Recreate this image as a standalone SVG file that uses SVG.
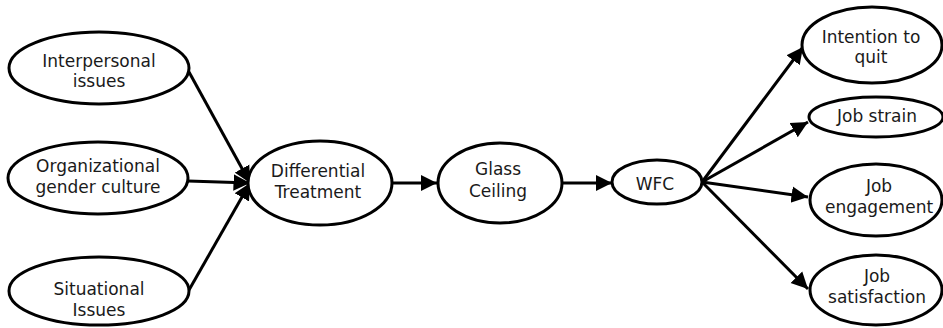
<svg xmlns="http://www.w3.org/2000/svg" width="943" height="328" viewBox="0 0 943 328">
  <style>
    .node ellipse { fill: #ffffff; stroke: #000000; stroke-width: 3; }
    .node text { font-family: "DejaVu Sans", Verdana, sans-serif; font-size: 17px; fill: #1a1a1a; text-anchor: middle; }
    .edge { stroke: #000000; stroke-width: 3; fill: none; }
    .arrow { marker-end: url(#head); }
  </style>
  <defs>
    <marker id="head" viewBox="0 0 10 10" refX="10" refY="5" markerWidth="5.5" markerHeight="6" markerUnits="strokeWidth" orient="auto">
      <path d="M0,0 L10,5 L0,10 z" fill="#000000"/>
    </marker>
  </defs>

  <rect width="943" height="328" fill="#ffffff"/>

  <!-- connectors -->
  <g id="connectors">
    <line class="edge arrow" x1="189" y1="72" x2="250" y2="183"/>
    <line class="edge arrow" x1="188" y1="181" x2="250" y2="183"/>
    <line class="edge arrow" x1="189" y1="290" x2="250" y2="183"/>
    <line class="edge arrow" x1="392" y1="183" x2="437" y2="183"/>
    <line class="edge arrow" x1="562" y1="183" x2="612" y2="183"/>
    <line class="edge arrow" x1="702" y1="182" x2="803" y2="47"/>
    <line class="edge arrow" x1="702" y1="182" x2="808" y2="122"/>
    <line class="edge arrow" x1="702" y1="182" x2="808" y2="197"/>
    <line class="edge arrow" x1="702" y1="182" x2="808" y2="289"/>
  </g>

  <!-- source factors -->
  <g id="interpersonal" class="node">
    <ellipse cx="99" cy="68" rx="90" ry="36"/>
    <text x="99" y="67">Interpersonal</text>
    <text x="99" y="87">issues</text>
  </g>
  <g id="organizational" class="node">
    <ellipse cx="98" cy="178" rx="90" ry="36"/>
    <text x="98" y="172">Organizational</text>
    <text x="98" y="193">gender culture</text>
  </g>
  <g id="situational" class="node">
    <ellipse cx="99" cy="291" rx="90" ry="34"/>
    <text x="99" y="295">Situational</text>
    <text x="99" y="316">Issues</text>
  </g>

  <!-- chain -->
  <g id="differential" class="node">
    <ellipse cx="320" cy="183" rx="72" ry="42"/>
    <text x="318" y="177">Differential</text>
    <text x="318" y="198">Treatment</text>
  </g>
  <g id="glass" class="node">
    <ellipse cx="500" cy="183" rx="62" ry="40"/>
    <text x="498" y="175">Glass</text>
    <text x="498" y="197">Ceiling</text>
  </g>
  <g id="wfc" class="node">
    <ellipse cx="657" cy="182" rx="45" ry="22"/>
    <text x="655" y="190">WFC</text>
  </g>

  <!-- outcomes -->
  <g id="intention" class="node">
    <ellipse cx="872" cy="45" rx="70" ry="38"/>
    <text x="871" y="43">Intention to</text>
    <text x="871" y="63">quit</text>
  </g>
  <g id="strain" class="node">
    <ellipse cx="876" cy="117" rx="67" ry="20"/>
    <text x="877" y="122">Job strain</text>
  </g>
  <g id="engagement" class="node">
    <ellipse cx="876" cy="200" rx="66" ry="36"/>
    <text x="879" y="192">Job</text>
    <text x="879" y="213">engagement</text>
  </g>
  <g id="satisfaction" class="node">
    <ellipse cx="876" cy="290" rx="66" ry="35"/>
    <text x="877" y="282">Job</text>
    <text x="877" y="303">satisfaction</text>
  </g>
</svg>
